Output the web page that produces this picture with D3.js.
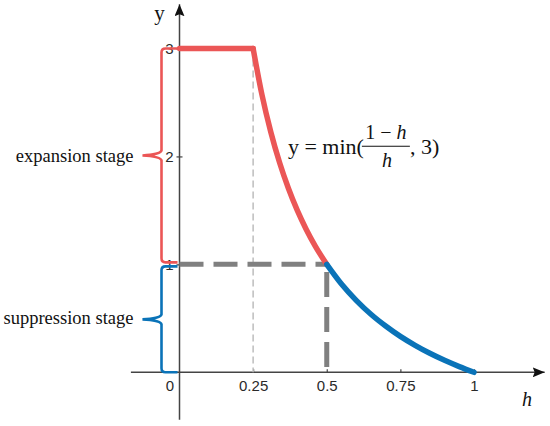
<!DOCTYPE html>
<html>
<head>
<meta charset="utf-8">
<script src="https://cdn.jsdelivr.net/npm/d3@7"></script>
<style>
    body { margin: 0; background: #fff; }
</style>
</head>
<body>
<div id="chart"></div>
<script>
'use strict';

// curve pieces
const flatH = [0, 0.25];
const flatY = [3, 3];
const expansionH = [0.25, 0.28, 0.31, 0.34, 0.37, 0.40, 0.43, 0.46, 0.50];
const expansionY = [3, 2.571, 2.226, 1.941, 1.703, 1.5, 1.326, 1.174, 1];
const suppressionH = [0.50, 0.55, 0.60, 0.65, 0.70, 0.75, 0.80, 0.85, 0.90, 0.95, 1];
const suppressionY = [1, 0.818, 0.667, 0.538, 0.429, 0.333, 0.25, 0.176, 0.111, 0.053, 0];

const xTicks = [0, 0.25, 0.5, 0.75, 1];
const yTicks = [1, 2, 3];
const xTickLabels = ['0', '0.25', '0.5', '0.75', '1'];
const yTickLabels = ['1', '2', '3'];

const stages = [
    { name: 'expansion stage', from: 1, to: 3, colour: '#eb5656' },
    { name: 'suppression stage', from: 0, to: 1, colour: '#0a73b8' }
];

const width = 550;
const height = 426;

const svg = d3.select('#chart')
    .append('svg')
    .attr('width', width)
    .attr('height', height);

const xScale = d3.scaleLinear().domain([0, 1]).range([179.5, 474]);
const yScale = d3.scaleLinear().domain([0, 3]).range([372.3, 48.5]);

// arrow heads
const defs = svg.append('defs');
defs.append('marker')
    .attr('id', 'arrow')
    .attr('viewBox', '0 0 12 10')
    .attr('refX', 12)
    .attr('refY', 5)
    .attr('markerWidth', 12)
    .attr('markerHeight', 10)
    .attr('markerUnits', 'userSpaceOnUse')
    .attr('orient', 'auto')
    .append('path')
    .attr('d', 'M0,0 L12,5 L0,10 L2,5 Z')
    .attr('fill', '#111');

const axisColour = '#444';

// axis lines
svg.append('line')
    .attr('x1', xScale(-0.165))
    .attr('x2', xScale(1.24))
    .attr('y1', yScale(0))
    .attr('y2', yScale(0))
    .attr('stroke', axisColour)
    .attr('stroke-width', 1.5)
    .attr('marker-end', 'url(#arrow)');

svg.append('line')
    .attr('x1', xScale(0))
    .attr('x2', xScale(0))
    .attr('y1', yScale(-0.44))
    .attr('y2', yScale(3.41))
    .attr('stroke', axisColour)
    .attr('stroke-width', 1.5)
    .attr('marker-end', 'url(#arrow)');

// x ticks
const xAxis = d3.axisBottom(xScale)
    .tickValues(xTicks)
    .tickSize(-3)
    .tickPadding(8)
    .tickFormat(function (d, i) {
        return xTickLabels[i];
    });

const xAxisG = svg.append('g')
    .attr('transform', `translate(0,${yScale(0)})`)
    .call(xAxis);
xAxisG.select('.domain').remove();
xAxisG.selectAll('line')
    .attr('stroke', axisColour)
    .attr('stroke-width', 1.2)
    .attr('opacity', function (d) { return d === 0 ? 0 : 1; });
xAxisG.selectAll('text')
    .attr('font-family', '"Liberation Sans", Arial, sans-serif')
    .attr('font-size', 15)
    .attr('fill', '#2a2a2a')
    .attr('dx', function (d) { return d === 0 ? -10 : 0; });

// y ticks
const yAxis = d3.axisLeft(yScale)
    .tickValues(yTicks)
    .tickSize(3)
    .tickPadding(3)
    .tickFormat(function (d, i) {
        return yTickLabels[i];
    });

const yAxisG = svg.append('g')
    .attr('transform', `translate(${xScale(0)},0)`)
    .call(yAxis);
yAxisG.select('.domain').remove();
yAxisG.selectAll('line')
    .attr('x1', 3)
    .attr('stroke', axisColour)
    .attr('stroke-width', 1.2);
yAxisG.selectAll('text')
    .attr('font-family', '"Liberation Sans", Arial, sans-serif')
    .attr('font-size', 15)
    .attr('fill', '#2a2a2a');

// axis titles
svg.append('text')
    .attr('x', xScale(0) - 20)
    .attr('y', yScale(3.41) + 16)
    .attr('text-anchor', 'middle')
    .attr('font-family', '"Liberation Serif", serif')
    .attr('font-size', 21)
    .attr('fill', '#111')
    .text('y');

svg.append('text')
    .attr('x', xScale(1.18))
    .attr('y', yScale(0) + 34)
    .attr('text-anchor', 'middle')
    .attr('font-family', '"Liberation Serif", serif')
    .attr('font-style', 'italic')
    .attr('font-size', 20)
    .attr('fill', '#111')
    .text('h');

// reference lines
svg.append('line')
    .attr('x1', xScale(0.25))
    .attr('x2', xScale(0.25))
    .attr('y1', yScale(3))
    .attr('y2', yScale(0))
    .attr('stroke', '#bdbdbd')
    .attr('stroke-width', 1.5)
    .attr('stroke-dasharray', '7,4');

const guide = d3.line()
    .x(function (d) { return xScale(d[0]); })
    .y(function (d) { return yScale(d[1]); });

svg.append('path')
    .attr('d', guide([[0, 1], [0.5, 1]]))
    .attr('fill', 'none')
    .attr('stroke', '#808080')
    .attr('stroke-width', 5)
    .attr('stroke-dasharray', '24,10');

svg.append('path')
    .attr('d', guide([[0.5, 0.93], [0.5, 0]]))
    .attr('fill', 'none')
    .attr('stroke', '#808080')
    .attr('stroke-width', 5)
    .attr('stroke-dasharray', '25,10');

// curve
const curveGen = d3.line()
    .x(function (d) { return xScale(d[0]); })
    .y(function (d) { return yScale(d[1]); })
    .curve(d3.curveMonotoneX);

const zipPoints = function (hs, ys) {
    return hs.map(function (h, i) { return [h, ys[i]]; });
};

const curveParts = [
    { points: zipPoints(flatH, flatY), colour: stages[0].colour },
    { points: zipPoints(expansionH, expansionY), colour: stages[0].colour },
    { points: zipPoints(suppressionH, suppressionY), colour: stages[1].colour }
];

svg.selectAll('path.curve')
    .data(curveParts)
    .join('path')
    .attr('class', 'curve')
    .attr('fill', 'none')
    .attr('stroke', function (d) { return d.colour; })
    .attr('stroke-width', 5.5)
    .attr('stroke-linecap', 'round')
    .attr('stroke-linejoin', 'round')
    .attr('d', function (d) { return curveGen(d.points); });

// braces for the stages
const braceX = xScale(0) - 18;
const tipX = xScale(0) - 37;

function bracePath(yTop, yBot) {
    const mid = (yTop + yBot) / 2;
    const r = 4;
    return [
        'M', xScale(0) - 2, yTop,
        'L', braceX + r, yTop,
        'Q', braceX, yTop, braceX, yTop + r,
        'L', braceX, mid - 5,
        'Q', braceX - 1, mid - 1, tipX, mid,
        'Q', braceX - 1, mid + 1, braceX, mid + 5,
        'L', braceX, yBot - r,
        'Q', braceX, yBot, braceX + r, yBot,
        'L', xScale(0) - 2, yBot
    ].join(' ');
}

svg.selectAll('path.brace')
    .data(stages)
    .join('path')
    .attr('class', 'brace')
    .attr('fill', 'none')
    .attr('stroke', function (d) { return d.colour; })
    .attr('stroke-width', 2.6)
    .attr('d', function (d, i) {
        const top = yScale(d.to) + (i === 1 ? 2 : 0);
        const bot = yScale(d.from) - (i === 0 ? 2 : 0);
        return bracePath(top, bot);
    });

svg.selectAll('text.stage')
    .data(stages)
    .join('text')
    .attr('class', 'stage')
    .attr('x', tipX - 9)
    .attr('y', function (d) { return (yScale(d.from) + yScale(d.to)) / 2; })
    .attr('dy', '0.32em')
    .attr('text-anchor', 'end')
    .attr('font-family', '"Liberation Serif", serif')
    .attr('font-size', 18.5)
    .attr('fill', '#111')
    .text(function (d) { return d.name; });

// formula
const eq = svg.append('g')
    .attr('font-family', '"Liberation Serif", serif')
    .attr('fill', '#111');

const eqX = xScale(0.368);
const eqY = yScale(2.02);

eq.append('text')
    .attr('x', eqX)
    .attr('y', eqY)
    .attr('font-size', 22)
    .text('y = min(');

eq.append('text')
    .attr('x', eqX + 98)
    .attr('y', eqY - 15)
    .attr('text-anchor', 'middle')
    .attr('font-size', 20)
    .html('1 − <tspan font-style="italic">h</tspan>');

eq.append('line')
    .attr('x1', eqX + 74)
    .attr('x2', eqX + 122)
    .attr('y1', eqY - 8)
    .attr('y2', eqY - 8)
    .attr('stroke', '#111')
    .attr('stroke-width', 1.2);

eq.append('text')
    .attr('x', eqX + 99)
    .attr('y', eqY + 13)
    .attr('text-anchor', 'middle')
    .attr('font-size', 20)
    .attr('font-style', 'italic')
    .text('h');

eq.append('text')
    .attr('x', eqX + 122)
    .attr('y', eqY)
    .attr('font-size', 22)
    .text(', 3)');
</script>
</body>
</html>
